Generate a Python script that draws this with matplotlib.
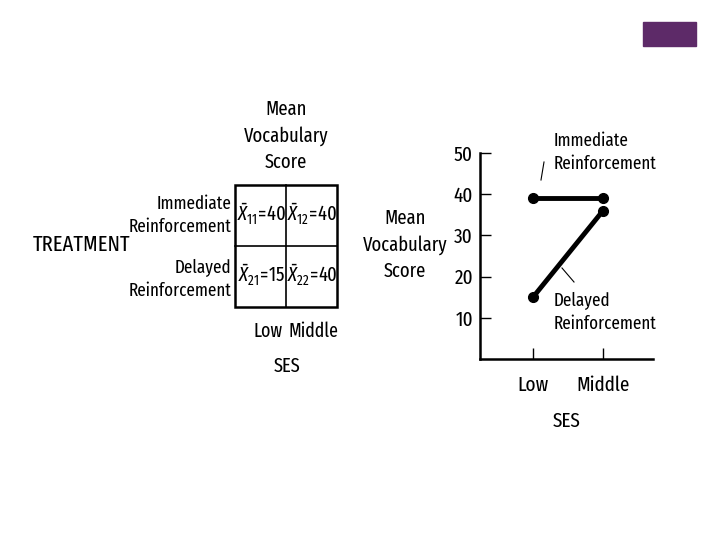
import matplotlib.pyplot as plt
from matplotlib.patches import Rectangle

FONT = 'Fira Sans Extra Condensed'
plt.rcParams['font.family'] = [FONT, 'Roboto Condensed', 'DejaVu Sans']
plt.rcParams['mathtext.fontset'] = 'custom'
plt.rcParams['mathtext.rm'] = FONT
plt.rcParams['mathtext.it'] = FONT + ':italic'

# data
ses_levels = ["Low", "Middle"]
treatments = ["Immediate\nReinforcement", "Delayed\nReinforcement"]
cell_means = [[40, 40], [15, 40]]
# values as drawn on the plot
immediate = [39, 39]
delayed = [15, 36]

fig = plt.figure(figsize=(7.2, 5.4), dpi=100)

# full-figure axes in pixel coords for the table part
bg = fig.add_axes([0, 0, 1, 1])
bg.set_xlim(0, 720)
bg.set_ylim(540, 0)
bg.axis('off')

# purple box top-right
bg.add_patch(Rectangle((643, 22), 53, 24, color='#5d2a68'))

# table
x0, x1, x2 = 235, 286, 337
y0, y1, y2 = 185, 246, 307
bg.add_patch(Rectangle((x0, y0), x2 - x0, y2 - y0, fill=False, lw=1.8, ec='black'))
bg.plot([x1, x1], [y0, y2], color='black', lw=1.2)
bg.plot([x0, x2], [y1, y1], color='black', lw=1.2)

for i in range(2):
    for j in range(2):
        cx = (x0 + x1) / 2 if j == 0 else (x1 + x2) / 2
        cy = (y0 + y1) / 2 if i == 0 else (y1 + y2) / 2
        s = r"$\bar{X}_{%d%d}\!=\!%d$" % (i + 1, j + 1, cell_means[i][j])
        bg.text(cx + 1, cy - 1, s, ha='center', va='center', fontsize=14.5)

bg.text(231, 215, treatments[0], ha='right', va='center', fontsize=13.3, linespacing=1.35)
bg.text(231, 279, treatments[1], ha='right', va='center', fontsize=13.3, linespacing=1.35)
bg.text(82, 245, "TREATMENT", ha='center', va='center', fontsize=16)
bg.text(286, 136, "Mean\nVocabulary\nScore", ha='center', va='center', fontsize=14.5, linespacing=1.45)
bg.text(268, 331, ses_levels[0], ha='center', va='center', fontsize=14)
bg.text(313, 331, ses_levels[1], ha='center', va='center', fontsize=14)
bg.text(287, 366, "SES", ha='center', va='center', fontsize=14.5)

# line chart
ax = fig.add_axes([480 / 720, 1 - 359 / 540, 173 / 720, 206 / 540])
xs = [0, 1]
ax.plot(xs, immediate, color='black', lw=3.5, marker='o', ms=7)
ax.plot(xs, delayed, color='black', lw=3.5, marker='o', ms=7)
ax.set_xlim(-53 / 70, 1 + 50 / 70)
ax.set_ylim(0, 50)
ax.set_yticks([10, 20, 30, 40, 50])
ax.set_xticks(xs)
ax.set_xticklabels(ses_levels)
ax.spines['top'].set_visible(False)
ax.spines['right'].set_visible(False)
ax.spines['left'].set_linewidth(1.8)
ax.spines['bottom'].set_linewidth(1.8)
ax.tick_params(axis='both', direction='in', length=8, width=1, labelsize=15)
ax.tick_params(axis='y', pad=5)
ax.tick_params(axis='x', pad=12)
ax.set_xlabel("SES", fontsize=15, labelpad=12)
ax.patch.set_alpha(0)

bg.text(405, 245, "Mean\nVocabulary\nScore", ha='center', va='center', fontsize=14.5, linespacing=1.45)
bg.text(554, 152, "Immediate\nReinforcement", ha='left', va='center', fontsize=13.3, linespacing=1.35)
bg.plot([544, 541], [162, 180], color='black', lw=0.8)
bg.text(554, 312, "Delayed\nReinforcement", ha='left', va='center', fontsize=13.3, linespacing=1.35)
bg.plot([574, 562], [282, 268], color='black', lw=0.8)

fig.savefig("out.png", dpi=100)
